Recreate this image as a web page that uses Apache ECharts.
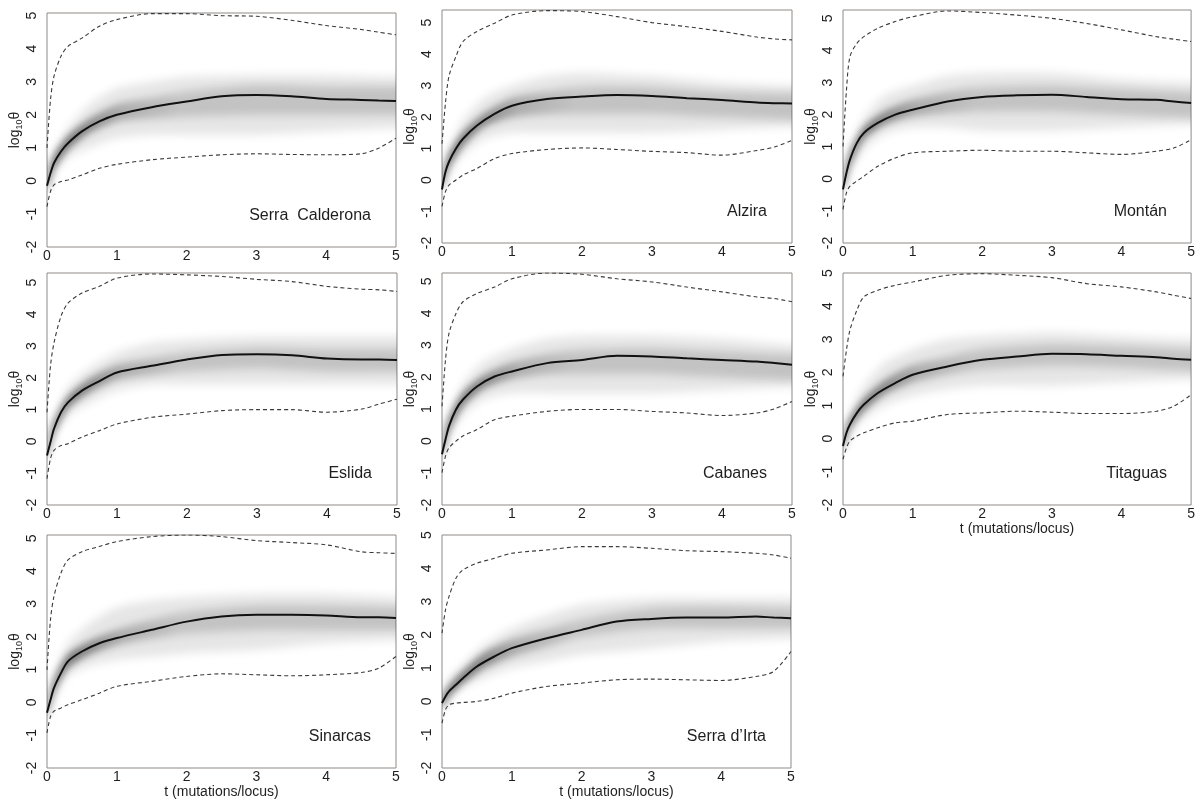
<!DOCTYPE html>
<html>
<head>
<meta charset="utf-8">
<script src="https://cdn.jsdelivr.net/npm/echarts@6/dist/echarts.min.js"></script>
<style>
  html, body { margin: 0; padding: 0; background: #fff; }
  #chart { width: 1198px; height: 800px; }
</style>
</head>
<body>
<div id="chart"></div>
<script>
// Time grid (mutations/locus) for the median and 95% curves
const T = [0, 0.05, 0.1, 0.2, 0.3, 0.5, 0.75, 1, 1.5, 2, 2.5, 3, 3.5, 4, 4.5, 4.75, 5];
// Coarser time grid for the posterior density bands
const TB = [0, 0.1, 0.3, 0.6, 1, 1.5, 2, 3, 4, 5];

const populations = ['Serra  Calderona', 'Alzira', 'Montán', 'Eslida', 'Cabanes', 'Titaguas', 'Sinarcas', 'Serra d\u2019Irta'];

// Upper limit of each panel's log10(theta) axis
const yMax = [5.08, 5.4, 5.26, 5.3, 5.26, 5.0, 5.1, 5.0];
const yTicks = [-2, -1, 0, 1, 2, 3, 4, 5];
const xTicks = [0, 1, 2, 3, 4, 5];

// Median log10(theta) through time
const medianCurves = [
  [-0.15, 0.23, 0.54, 0.89, 1.14, 1.5, 1.8, 2.0, 2.23, 2.4, 2.56, 2.6, 2.56, 2.48, 2.45, 2.43, 2.42],
  [-0.3, 0.26, 0.58, 1.0, 1.31, 1.73, 2.1, 2.36, 2.57, 2.65, 2.7, 2.67, 2.6, 2.54, 2.46, 2.44, 2.43],
  [-0.33, 0.19, 0.6, 1.12, 1.43, 1.74, 2.0, 2.15, 2.41, 2.55, 2.6, 2.62, 2.55, 2.48, 2.46, 2.41, 2.36],
  [-0.44, -0.02, 0.4, 0.92, 1.23, 1.6, 1.9, 2.17, 2.38, 2.58, 2.72, 2.74, 2.71, 2.61, 2.58, 2.58, 2.56],
  [-0.41, 0.05, 0.47, 0.99, 1.3, 1.71, 2.02, 2.18, 2.44, 2.54, 2.67, 2.65, 2.59, 2.54, 2.49, 2.44, 2.39],
  [-0.22, 0.18, 0.43, 0.78, 1.03, 1.38, 1.68, 1.93, 2.18, 2.38, 2.48, 2.56, 2.55, 2.5, 2.46, 2.41, 2.38],
  [-0.32, 0.08, 0.44, 0.89, 1.25, 1.55, 1.8, 1.96, 2.21, 2.46, 2.62, 2.67, 2.67, 2.65, 2.59, 2.59, 2.57],
  [-0.05, 0.15, 0.3, 0.5, 0.7, 1.05, 1.35, 1.6, 1.9, 2.15, 2.4, 2.48, 2.52, 2.52, 2.55, 2.52, 2.5]
];

// Upper 95% limit
const upperCurves = [
  [1.0, 2.45, 3.16, 3.77, 4.07, 4.32, 4.68, 4.88, 5.06, 5.06, 5.0, 4.98, 4.86, 4.7, 4.58, 4.5, 4.42],
  [1.15, 2.46, 3.3, 3.93, 4.4, 4.72, 4.98, 5.24, 5.38, 5.35, 5.19, 5.0, 4.87, 4.72, 4.54, 4.48, 4.45],
  [1.01, 2.77, 3.81, 4.22, 4.43, 4.69, 4.9, 5.05, 5.23, 5.18, 5.1, 5.0, 4.84, 4.64, 4.43, 4.35, 4.28],
  [0.92, 2.38, 3.1, 3.94, 4.35, 4.67, 4.88, 5.14, 5.27, 5.24, 5.19, 5.1, 5.03, 4.88, 4.79, 4.77, 4.72],
  [1.09, 2.54, 3.37, 3.99, 4.36, 4.62, 4.82, 5.08, 5.26, 5.22, 5.08, 4.98, 4.82, 4.67, 4.51, 4.46, 4.36],
  [1.88, 2.68, 3.28, 3.88, 4.28, 4.48, 4.63, 4.73, 4.93, 4.98, 4.93, 4.86, 4.68, 4.58, 4.43, 4.33, 4.23],
  [0.99, 2.52, 3.23, 3.94, 4.34, 4.59, 4.75, 4.9, 5.05, 5.1, 5.05, 4.93, 4.87, 4.8, 4.59, 4.56, 4.54],
  [2.05, 2.75, 3.15, 3.7, 3.95, 4.15, 4.3, 4.45, 4.55, 4.65, 4.65, 4.6, 4.53, 4.5, 4.45, 4.4, 4.3]
];

// Lower 95% limit
const lowerCurves = [
  [-0.78, -0.32, -0.12, -0.02, 0.03, 0.18, 0.38, 0.5, 0.64, 0.72, 0.79, 0.82, 0.8, 0.79, 0.82, 0.99, 1.29],
  [-0.84, -0.37, -0.16, 0.0, 0.16, 0.37, 0.68, 0.84, 0.97, 1.02, 0.97, 0.91, 0.87, 0.79, 0.94, 1.05, 1.26],
  [-0.95, -0.43, -0.23, -0.07, 0.08, 0.39, 0.65, 0.81, 0.86, 0.89, 0.86, 0.86, 0.81, 0.76, 0.86, 0.96, 1.22],
  [-1.17, -0.54, -0.28, -0.13, -0.07, 0.14, 0.34, 0.55, 0.76, 0.86, 0.97, 1.0, 1.0, 0.92, 1.02, 1.18, 1.33],
  [-0.99, -0.47, -0.21, 0.0, 0.16, 0.36, 0.67, 0.78, 0.93, 0.99, 0.99, 0.93, 0.88, 0.8, 0.88, 1.01, 1.24],
  [-0.62, -0.27, -0.07, 0.08, 0.18, 0.33, 0.48, 0.53, 0.73, 0.78, 0.83, 0.8, 0.76, 0.76, 0.83, 0.98, 1.33],
  [-0.93, -0.43, -0.27, -0.17, -0.07, 0.08, 0.28, 0.49, 0.64, 0.79, 0.87, 0.84, 0.81, 0.84, 0.91, 1.04, 1.4],
  [-0.65, -0.25, -0.1, -0.05, -0.03, 0.0, 0.1, 0.25, 0.45, 0.55, 0.65, 0.67, 0.65, 0.63, 0.75, 0.9, 1.5]
];

// Posterior density: light outer band
const outerLo = [
  [-0.4, 0.2, 0.7, 1.0, 1.3, 1.4, 1.4, 1.4, 1.5, 1.6],
  [-0.4, 0.2, 0.8, 1.3, 1.5, 1.5, 1.5, 1.5, 1.6, 1.7],
  [-0.5, 0.2, 0.9, 1.4, 1.6, 1.6, 1.5, 1.5, 1.6, 1.7],
  [-0.6, 0.1, 0.8, 1.2, 1.6, 1.8, 1.8, 1.8, 1.8, 1.8],
  [-0.6, 0.1, 0.8, 1.3, 1.5, 1.5, 1.5, 1.5, 1.6, 1.7],
  [-0.4, 0.1, 0.6, 1.0, 1.3, 1.5, 1.6, 1.6, 1.7, 1.8],
  [-0.6, 0.1, 0.8, 1.1, 1.3, 1.4, 1.5, 1.6, 1.8, 1.9],
  [-0.3, 0.0, 0.4, 0.7, 1.0, 1.2, 1.4, 1.6, 1.8, 1.9]
];
const outerHi = [
  [0.2, 0.9, 1.6, 2.3, 2.8, 3.0, 3.15, 3.2, 3.2, 3.15],
  [0.2, 1.0, 1.9, 2.6, 3.0, 3.3, 3.4, 3.3, 3.1, 3.0],
  [0.2, 1.0, 1.9, 2.6, 2.9, 3.2, 3.3, 3.3, 3.1, 3.0],
  [0.0, 0.8, 1.7, 2.3, 2.8, 3.1, 3.2, 3.3, 3.3, 3.3],
  [0.1, 0.9, 1.8, 2.5, 2.9, 3.2, 3.3, 3.3, 3.2, 3.0],
  [0.2, 0.8, 1.6, 2.3, 2.7, 3.0, 3.1, 3.2, 3.1, 3.0],
  [0.1, 0.9, 1.8, 2.4, 2.9, 3.1, 3.2, 3.3, 3.3, 3.2],
  [0.3, 0.7, 1.1, 1.7, 2.2, 2.6, 2.9, 3.1, 3.1, 3.1]
];
// Posterior density: darker core band
const innerLo = [
  [-0.3, 0.35, 0.95, 1.45, 1.8, 1.9, 1.95, 2.0, 2.0, 2.0],
  [-0.3, 0.4, 1.1, 1.7, 2.0, 2.1, 2.1, 2.1, 2.0, 1.9],
  [-0.4, 0.4, 1.25, 1.7, 1.95, 2.05, 2.1, 2.1, 2.0, 1.9],
  [-0.55, 0.25, 1.05, 1.55, 1.95, 2.1, 2.2, 2.3, 2.2, 2.2],
  [-0.5, 0.3, 1.1, 1.65, 1.95, 2.1, 2.1, 2.1, 2.0, 1.9],
  [-0.35, 0.3, 0.85, 1.35, 1.7, 1.95, 2.1, 2.2, 2.15, 2.05],
  [-0.45, 0.3, 1.05, 1.45, 1.75, 1.95, 2.1, 2.2, 2.2, 2.2],
  [-0.2, 0.15, 0.55, 1.0, 1.35, 1.65, 1.95, 2.2, 2.2, 2.2]
];
const innerHi = [
  [0.1, 0.75, 1.35, 1.85, 2.3, 2.5, 2.7, 2.9, 2.85, 2.85],
  [0.1, 0.8, 1.5, 2.1, 2.6, 2.8, 2.95, 2.95, 2.8, 2.75],
  [0.0, 0.8, 1.6, 2.1, 2.45, 2.7, 2.85, 2.9, 2.8, 2.7],
  [-0.2, 0.6, 1.4, 1.95, 2.4, 2.6, 2.8, 2.95, 2.9, 2.9],
  [-0.1, 0.7, 1.5, 2.05, 2.45, 2.7, 2.85, 2.9, 2.8, 2.7],
  [0.0, 0.6, 1.2, 1.75, 2.2, 2.45, 2.7, 2.85, 2.8, 2.7],
  [-0.1, 0.65, 1.45, 1.85, 2.2, 2.5, 2.75, 2.95, 2.95, 2.9],
  [0.1, 0.45, 0.9, 1.45, 1.85, 2.15, 2.45, 2.8, 2.85, 2.8]
];

// Panel rectangles (px) for the 3 x 3 layout, last cell empty
const panels = [
  { left: 47,  top: 13,  width: 349, height: 234 },
  { left: 442, top: 10,  width: 350, height: 233 },
  { left: 843, top: 10,  width: 349, height: 233 },
  { left: 47,  top: 273, width: 350, height: 232 },
  { left: 442, top: 273, width: 350, height: 232 },
  { left: 843, top: 273, width: 349, height: 232 },
  { left: 47,  top: 535, width: 349, height: 233 },
  { left: 442, top: 535, width: 349, height: 233 }
];
const showXName = [false, false, false, false, false, true, true, true];

const FONT = '"Liberation Sans", Arial, Helvetica, sans-serif';
const TEXT = '#1e1e1e';
const isWhole = v => Math.abs(v - Math.round(v)) < 1e-6;
const OFF = 4000; // the band shape is drawn off-canvas; only its blurred shadow lands in the panel

// fill: solid or gradient alpha mask of the shape; shade: shadow colour; blur: edge softness (px)
function bandSeries(i, lo, hi, fill, shade, blur) {
  return {
    type: 'custom',
    coordinateSystem: 'cartesian2d',
    xAxisIndex: i,
    yAxisIndex: i,
    silent: true,
    z: 1,
    data: TB.map((t, k) => [t, lo[k], hi[k]]),
    encode: { x: 0, y: [1, 2] },
    renderItem: function (params, api) {
      if (params.dataIndex !== 0) return null;
      const n = TB.length;
      const top = [], bottom = [];
      for (let k = 0; k < n; k++) {
        top.push(api.coord([api.value(0, k), api.value(2, k)]));
        bottom.push(api.coord([api.value(0, k), api.value(1, k)]));
      }
      // carry the band past the right border so the soft edge does not fade inside the panel
      const lastTop = top[n - 1], lastBot = bottom[n - 1];
      top.push([lastTop[0] + 30, lastTop[1]]);
      bottom.push([lastBot[0] + 30, lastBot[1]]);
      const pts = top.concat(bottom.reverse());
      const cs = params.coordSys;
      return {
        type: 'group',
        clipPath: { type: 'rect', shape: { x: cs.x, y: cs.y, width: cs.width, height: cs.height } },
        children: [{
          type: 'polygon',
          x: -OFF,
          shape: { points: pts, smooth: 0.25 },
          style: { fill: fill, shadowBlur: blur, shadowColor: shade, shadowOffsetX: OFF, shadowOffsetY: 0 }
        }]
      };
    }
  };
}

// dark concentration of the density close to the median at early times
const earlyFade = {
  type: 'linear', x: 0, y: 0, x2: 1, y2: 0,
  colorStops: [
    { offset: 0, color: 'rgba(0,0,0,1)' },
    { offset: 0.08, color: 'rgba(0,0,0,0.8)' },
    { offset: 0.2, color: 'rgba(0,0,0,0.25)' },
    { offset: 0.35, color: 'rgba(0,0,0,0)' },
    { offset: 1, color: 'rgba(0,0,0,0)' }
  ]
};

function lineSeries(i, values, style, z) {
  return {
    type: 'line',
    xAxisIndex: i,
    yAxisIndex: i,
    data: T.map((t, k) => [t, values[k]]),
    showSymbol: false,
    symbol: 'none',
    smooth: 0.3,
    silent: true,
    z: z,
    lineStyle: style
  };
}

const series = [];
populations.forEach((name, i) => {
  series.push(bandSeries(i, outerLo[i], outerHi[i], '#000', 'rgba(0,0,0,0.10)', 10));
  series.push(bandSeries(i, innerLo[i], innerHi[i], '#000', 'rgba(0,0,0,0.15)', 8));
  series.push(bandSeries(i, innerLo[i], innerHi[i], earlyFade, 'rgba(0,0,0,0.45)', 6));
  series.push(lineSeries(i, lowerCurves[i], { color: '#3a3a3a', width: 1.1, type: [4, 3] }, 3));
  series.push(lineSeries(i, upperCurves[i], { color: '#3a3a3a', width: 1.1, type: [4, 3] }, 3));
  series.push(lineSeries(i, medianCurves[i], { color: '#111', width: 2 }, 4));
});

const option = {
  animation: false,
  backgroundColor: '#ffffff',
  grid: panels.map(p => ({
    left: p.left, top: p.top, width: p.width, height: p.height,
    show: true, borderColor: '#8f8a86', borderWidth: 1, backgroundColor: 'transparent'
  })),
  xAxis: panels.map((p, i) => ({
    type: 'value', gridIndex: i, min: xTicks[0], max: xTicks[xTicks.length - 1], interval: 1,
    axisLine: { show: false }, axisTick: { show: false }, splitLine: { show: false },
    axisLabel: { color: TEXT, fontSize: 14, fontFamily: FONT, margin: 2 },
    name: showXName[i] ? 't (mutations/locus)' : '',
    nameLocation: 'middle', nameGap: 17,
    nameTextStyle: { color: TEXT, fontSize: 14, fontFamily: FONT }
  })),
  yAxis: panels.map((p, i) => ({
    type: 'value', gridIndex: i, min: yTicks[0], max: yMax[i], interval: 1,
    axisLine: { show: false }, axisTick: { show: false }, splitLine: { show: false },
    axisLabel: {
      color: TEXT, fontSize: 14, fontFamily: FONT, rotate: 90, margin: 8,
      formatter: v => isWhole(v) ? String(Math.round(v)) : ''
    },
    name: '{a|log}{s|10}{a|\u03b8}',
    nameLocation: 'middle', nameGap: 17,
    nameTextStyle: {
      color: TEXT, fontFamily: FONT,
      rich: {
        a: { fontSize: 14, fontFamily: FONT, color: TEXT, lineHeight: 18 },
        s: { fontSize: 9, fontFamily: FONT, color: TEXT, verticalAlign: 'bottom', lineHeight: 18 }
      }
    }
  })),
  graphic: populations.map((name, i) => ({
    type: 'text',
    x: panels[i].left + panels[i].width - 25,
    y: panels[i].top + panels[i].height - 31,
    silent: true,
    style: {
      text: name, fill: TEXT, font: '16px ' + FONT,
      align: 'right', verticalAlign: 'middle'
    }
  })),
  series: series
};

const chart = echarts.init(document.getElementById('chart'), null, { renderer: 'canvas' });
chart.setOption(option);
</script>
</body>
</html>
